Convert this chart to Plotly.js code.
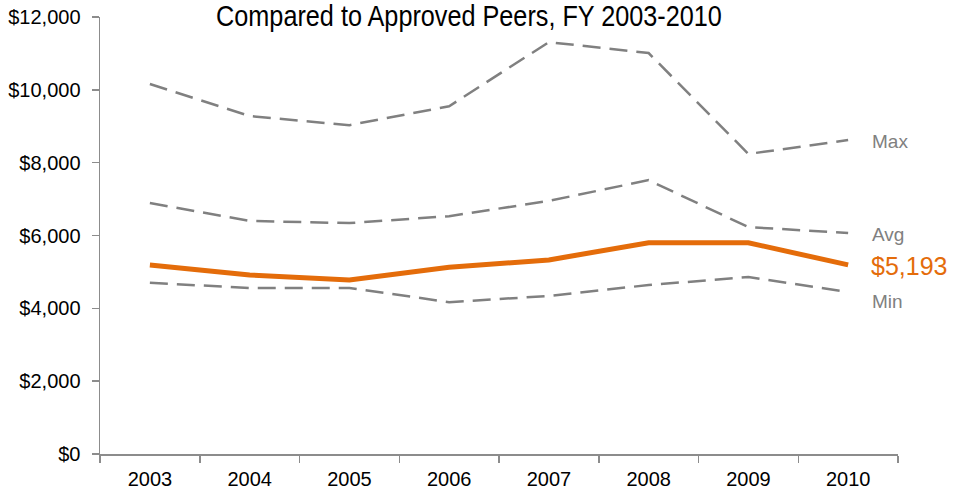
<!DOCTYPE html>
<html>
<head>
<meta charset="utf-8">
<script src="https://cdn.plot.ly/plotly-3.0.1.min.js"></script>
<style>html,body{margin:0;padding:0;background:#fff;}#chart{width:961px;height:498px;}</style>
</head>
<body>
<div id="chart"></div>
<script>
const years = ['2003','2004','2005','2006','2007','2008','2009','2010'];
const maxVals = [10160, 9280, 9030, 9550, 11310, 11010, 8240, 8620];
const avgVals = [6890, 6400, 6340, 6530, 6950, 7520, 6230, 6070];
const minVals = [4700, 4560, 4560, 4170, 4340, 4640, 4860, 4450];
const univVals = [5190, 4915, 4780, 5130, 5330, 5800, 5800, 5193];
const yTickVals = [0, 2000, 4000, 6000, 8000, 10000, 12000];
const yTickText = ['$0','$2,000','$4,000','$6,000','$8,000','$10,000','$12,000'];
const seriesLabels = ['Max','Avg','Min'];
const titleText = 'Compared to Approved Peers, FY 2003-2010';

const font = 'Liberation Sans, Arial, sans-serif';
const gray = '#808080';
const orange = '#E46C0A';
const dashStyle = '18px,9px';

function dashed(y, name){
  return {x: years, y: y, type:'scatter', mode:'lines', name:name,
    line:{color:gray, width:2.5, dash:dashStyle}, hoverinfo:'skip'};
}
const traces = [
  dashed(maxVals,'Max'), dashed(avgVals,'Avg'), dashed(minVals,'Min'),
  {x: years, y: univVals, type:'scatter', mode:'lines', name:'Univ',
   line:{color:orange, width:5}, hoverinfo:'skip'}
];
const li = years.length - 1;
const fmt = v => '$' + v.toLocaleString('en-US');
const annotations = [
  {x:li, y:maxVals[li], text:seriesLabels[0], showarrow:false, xanchor:'left', xshift:22, yshift:-1, font:{family:font, size:19, color:gray}},
  {x:li, y:avgVals[li], text:seriesLabels[1], showarrow:false, xanchor:'left', xshift:22, yshift:-2, font:{family:font, size:19, color:gray}},
  {x:li, y:minVals[li], text:seriesLabels[2], showarrow:false, xanchor:'left', xshift:22, yshift:-10, font:{family:font, size:19, color:gray}},
  {x:li, y:univVals[li], text:fmt(univVals[li]), showarrow:false, xanchor:'left', xshift:21, yshift:-1, font:{family:font, size:25, color:orange}}
];
const layout = {
  width:961, height:498,
  margin:{l:100, r:63, t:17, b:44, pad:0},
  paper_bgcolor:'#fff', plot_bgcolor:'#fff',
  showlegend:false,
  title:{text:titleText, x:0.488, xanchor:'center', y:0.968, yanchor:'middle', font:{family:font, size:29, color:'#000'}},
  xaxis:{type:'category', range:[-0.5,7.5], showgrid:false, zeroline:false,
    showline:true, linecolor:'#8c8c8c', linewidth:1.5,
    ticks:'outside', tickson:'boundaries', ticklen:7, tickcolor:'#8c8c8c', tickwidth:1.5,
    ticklabelstandoff:6,
    tickfont:{family:font, size:20, color:'#000'}, fixedrange:true},
  yaxis:{range:[0,12000], tickvals:yTickVals, ticktext:yTickText, showgrid:false, zeroline:false,
    showline:true, linecolor:'#8c8c8c', linewidth:1.5,
    ticks:'outside', ticklen:7, tickcolor:'#8c8c8c', tickwidth:1.5,
    ticklabelstandoff:7,
    tickfont:{family:font, size:20, color:'#000'}, fixedrange:true},
  annotations: annotations
};
Plotly.newPlot('chart', traces, layout, {displayModeBar:false, staticPlot:true}).then(function(gd){
  const t = gd.querySelector('.gtitle');
  if (t) {
    const cx = parseFloat(t.getAttribute('x'));
    t.setAttribute('transform', 'translate(' + cx + ',0) scale(0.87,1) translate(' + (-cx) + ',0)');
  }
});
</script>
</body>
</html>
